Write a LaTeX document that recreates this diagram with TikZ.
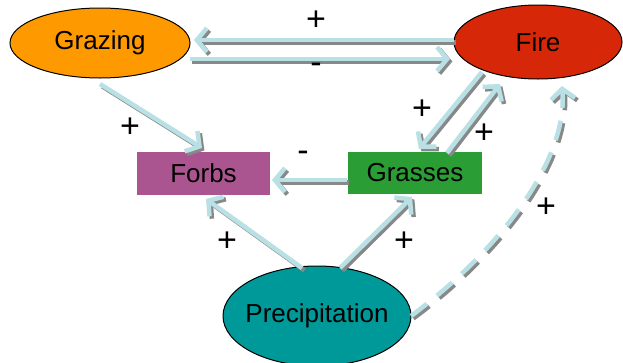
\documentclass[tikz,border=0pt]{standalone}
\usepackage{fontspec}
\setmainfont{Liberation Sans}
\usetikzlibrary{arrows.meta,shapes.geometric}
\definecolor{arr}{HTML}{B9E0E4}
\definecolor{shad}{HTML}{888888}
\definecolor{cgraz}{HTML}{FF9900}
\definecolor{cfire}{HTML}{D62808}
\definecolor{cforb}{HTML}{AA5590}
\definecolor{cgrass}{HTML}{2A9E34}
\definecolor{cprec}{HTML}{009999}
\tikzset{
  oval/.style={ellipse, draw=black, line width=1pt, inner sep=0pt, font=\fontsize{26}{28}\selectfont},
  box/.style={rectangle, inner sep=0pt, font=\fontsize{26}{28}\selectfont},
  link/.style={line width=4.5pt, draw=arr, -{Straight Barb[length=10pt 0 0,width=24pt 0 0]}},
  sign/.style={font=\fontsize{34}{36}\selectfont, inner sep=0pt}
}
\newcommand\lnk[2][]{%
  \draw[link,#1,draw=shad,transform canvas={shift={(2.4pt,-2.4pt)}}] #2;
  \draw[link,#1] #2;}
\begin{document}
\begin{tikzpicture}[x=1pt,y=-1pt]
\useasboundingbox (0,0) rectangle (623,362);
\node[oval, fill=cgraz, minimum width=180pt, minimum height=70pt] (graz) at (100,43) {Grazing};
\node[oval, fill=cfire, minimum width=168pt, minimum height=74pt] (fire) at (538,42) {Fire};
\node[box, fill=cforb, minimum width=133pt, minimum height=43pt] (forb) at (203.5,173.5) {Forbs};
\node[box, fill=cgrass, minimum width=134pt, minimum height=42pt] (grass) at (415,173) {Grasses};
\node[oval, fill=cprec, inner xsep=-8pt, minimum width=188pt, minimum height=100pt] (prec) at (317,316) {Precipitation};

\coordinate (f1) at (454,40);
\coordinate (g1) at (194,40);
\coordinate (g2) at (190,59);
\coordinate (f2) at (450,59);
\coordinate (g3) at (100,84);
\coordinate (fb1) at (202,148);
\coordinate (gr1) at (347,180);
\coordinate (fb2) at (272,180);
\coordinate (f3) at (482,72);
\coordinate (gr2) at (419,149);
\coordinate (gr3) at (447,153);
\coordinate (f4) at (500,84);
\coordinate (p1) at (302,268);
\coordinate (fb3) at (206,199);
\coordinate (p2) at (340,268);
\coordinate (gr4) at (412,197);
\coordinate (p3) at (411,316);
\coordinate (f5) at (562,86);
\lnk{(f1) -- (g1)}
\lnk{(g2) -- (f2)}
\lnk{(g3) -- (fb1)}
\lnk{(gr1) -- (fb2)}
\lnk{(f3) -- (gr2)}
\lnk{(gr3) -- (f4)}
\lnk{(p1) -- (fb3)}
\lnk{(p2) -- (gr4)}
\lnk[dash pattern=on 20pt off 13pt]{(p3) .. controls (500,250) and (568,160) .. (f5)}

\node[sign] (s1) at (316,21) {+};
\node[sign] (s2) at (316,68) {-};
\node[sign] (s3) at (130,128) {+};
\node[sign] (s4) at (303,156) {-};
\node[sign] (s5) at (422,110) {+};
\node[sign] (s6) at (484,134) {+};
\node[sign] (s7) at (227,242) {+};
\node[sign] (s8) at (404,242) {+};
\node[sign] (s9) at (546,208) {+};
\end{tikzpicture}
\end{document}
